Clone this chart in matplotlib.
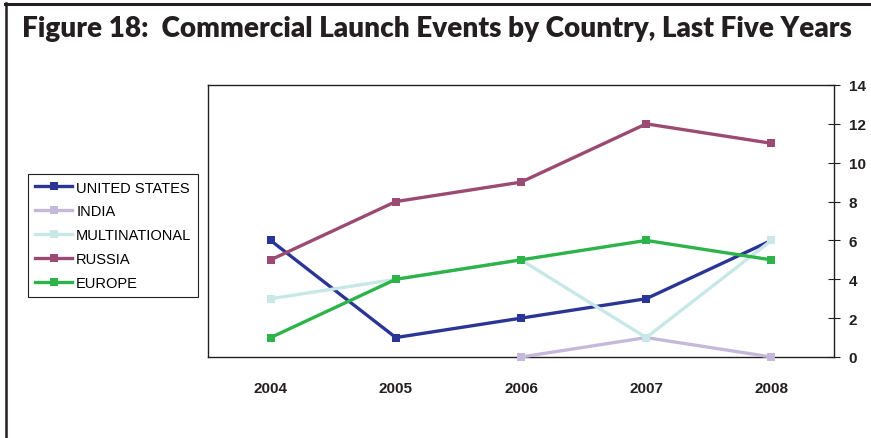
import matplotlib
matplotlib.use("Agg")
import matplotlib.pyplot as plt
from matplotlib.lines import Line2D

years = ["2004", "2005", "2006", "2007", "2008"]
united_states = [6, 1, 2, 3, 6]
india = [None, None, 0, 1, 0]
multinational = [3, 4, 5, 1, 6]
russia = [5, 8, 9, 12, 11]
europe = [1, 4, 5, 6, 5]
y_ticks = [0, 2, 4, 6, 8, 10, 12, 14]

series = [
    ("UNITED STATES", united_states, "#2B3595"),
    ("INDIA", india, "#C6B8DA"),
    ("MULTINATIONAL", multinational, "#C8E8E8"),
    ("RUSSIA", russia, "#9B4A73"),
    ("EUROPE", europe, "#2DB34A"),
]

W, H = 871, 439
fig = plt.figure(figsize=(W / 100, H / 100), dpi=100)

# outer frame (top and left lines)
fig.add_artist(Line2D([5.5 / W, 5.5 / W], [1 - 4 / H, 0], color="#231F20", lw=1.8, transform=fig.transFigure))
fig.add_artist(Line2D([4.5 / W, 1], [1 - 4.5 / H, 1 - 4.5 / H], color="#231F20", lw=2.2, transform=fig.transFigure))

fig.text(22 / W, 1 - 29 / H, "Figure 18:  Commercial Launch Events by Country, Last Five Years",
         fontsize=20.1, fontweight="heavy", family=["Lato", "DejaVu Sans"], color="#231F20",
         va="center", ha="left")

left, right, top, bottom = 208, 834, 86, 358
ax = fig.add_axes([left / W, 1 - bottom / H, (right - left) / W, (bottom - top) / H])

xs = list(range(len(years)))
handles = []
for name, vals, col in series:
    px = [x for x, v in zip(xs, vals) if v is not None]
    py = [v for v in vals if v is not None]
    h, = ax.plot(px, py, color=col, lw=2.4, marker="s", markersize=6, markeredgewidth=0,
                 label=name, clip_on=False, zorder=3)
    handles.append(h)

ax.set_xlim(-0.5, len(years) - 0.5)
ax.set_ylim(0, 14)
ax.set_xticks(xs)
ax.set_xticklabels(years)
ax.set_yticks(y_ticks)
ax.yaxis.tick_right()
ax.tick_params(axis="y", which="both", direction="inout", length=9, width=0.8, pad=6,
               labelsize=11, colors="#231F20")
ax.tick_params(axis="x", length=0, pad=17, labelsize=11, colors="#231F20")
tick_family = ["Liberation Sans Narrow", "Liberation Sans", "DejaVu Sans"]
for lab in ax.get_xticklabels() + ax.get_yticklabels():
    lab.set_fontweight("bold")
    lab.set_family(tick_family)
for s in ax.spines.values():
    s.set_color("#231F20")
    s.set_linewidth(1.0)

leg = fig.legend(handles=handles, loc="upper left", bbox_to_anchor=(28 / W, 1 - 175 / H),
                 frameon=True, fancybox=False, edgecolor="#231F20", framealpha=1,
                 prop={"family": ["Liberation Sans", "DejaVu Sans"], "size": 10.5},
                 handlelength=2.6, handletextpad=0.25, labelspacing=0.68, borderpad=0.45,
                 borderaxespad=0, markerscale=0.9)
leg.get_frame().set_linewidth(0.8)

fig.savefig("out.png", dpi=100)
